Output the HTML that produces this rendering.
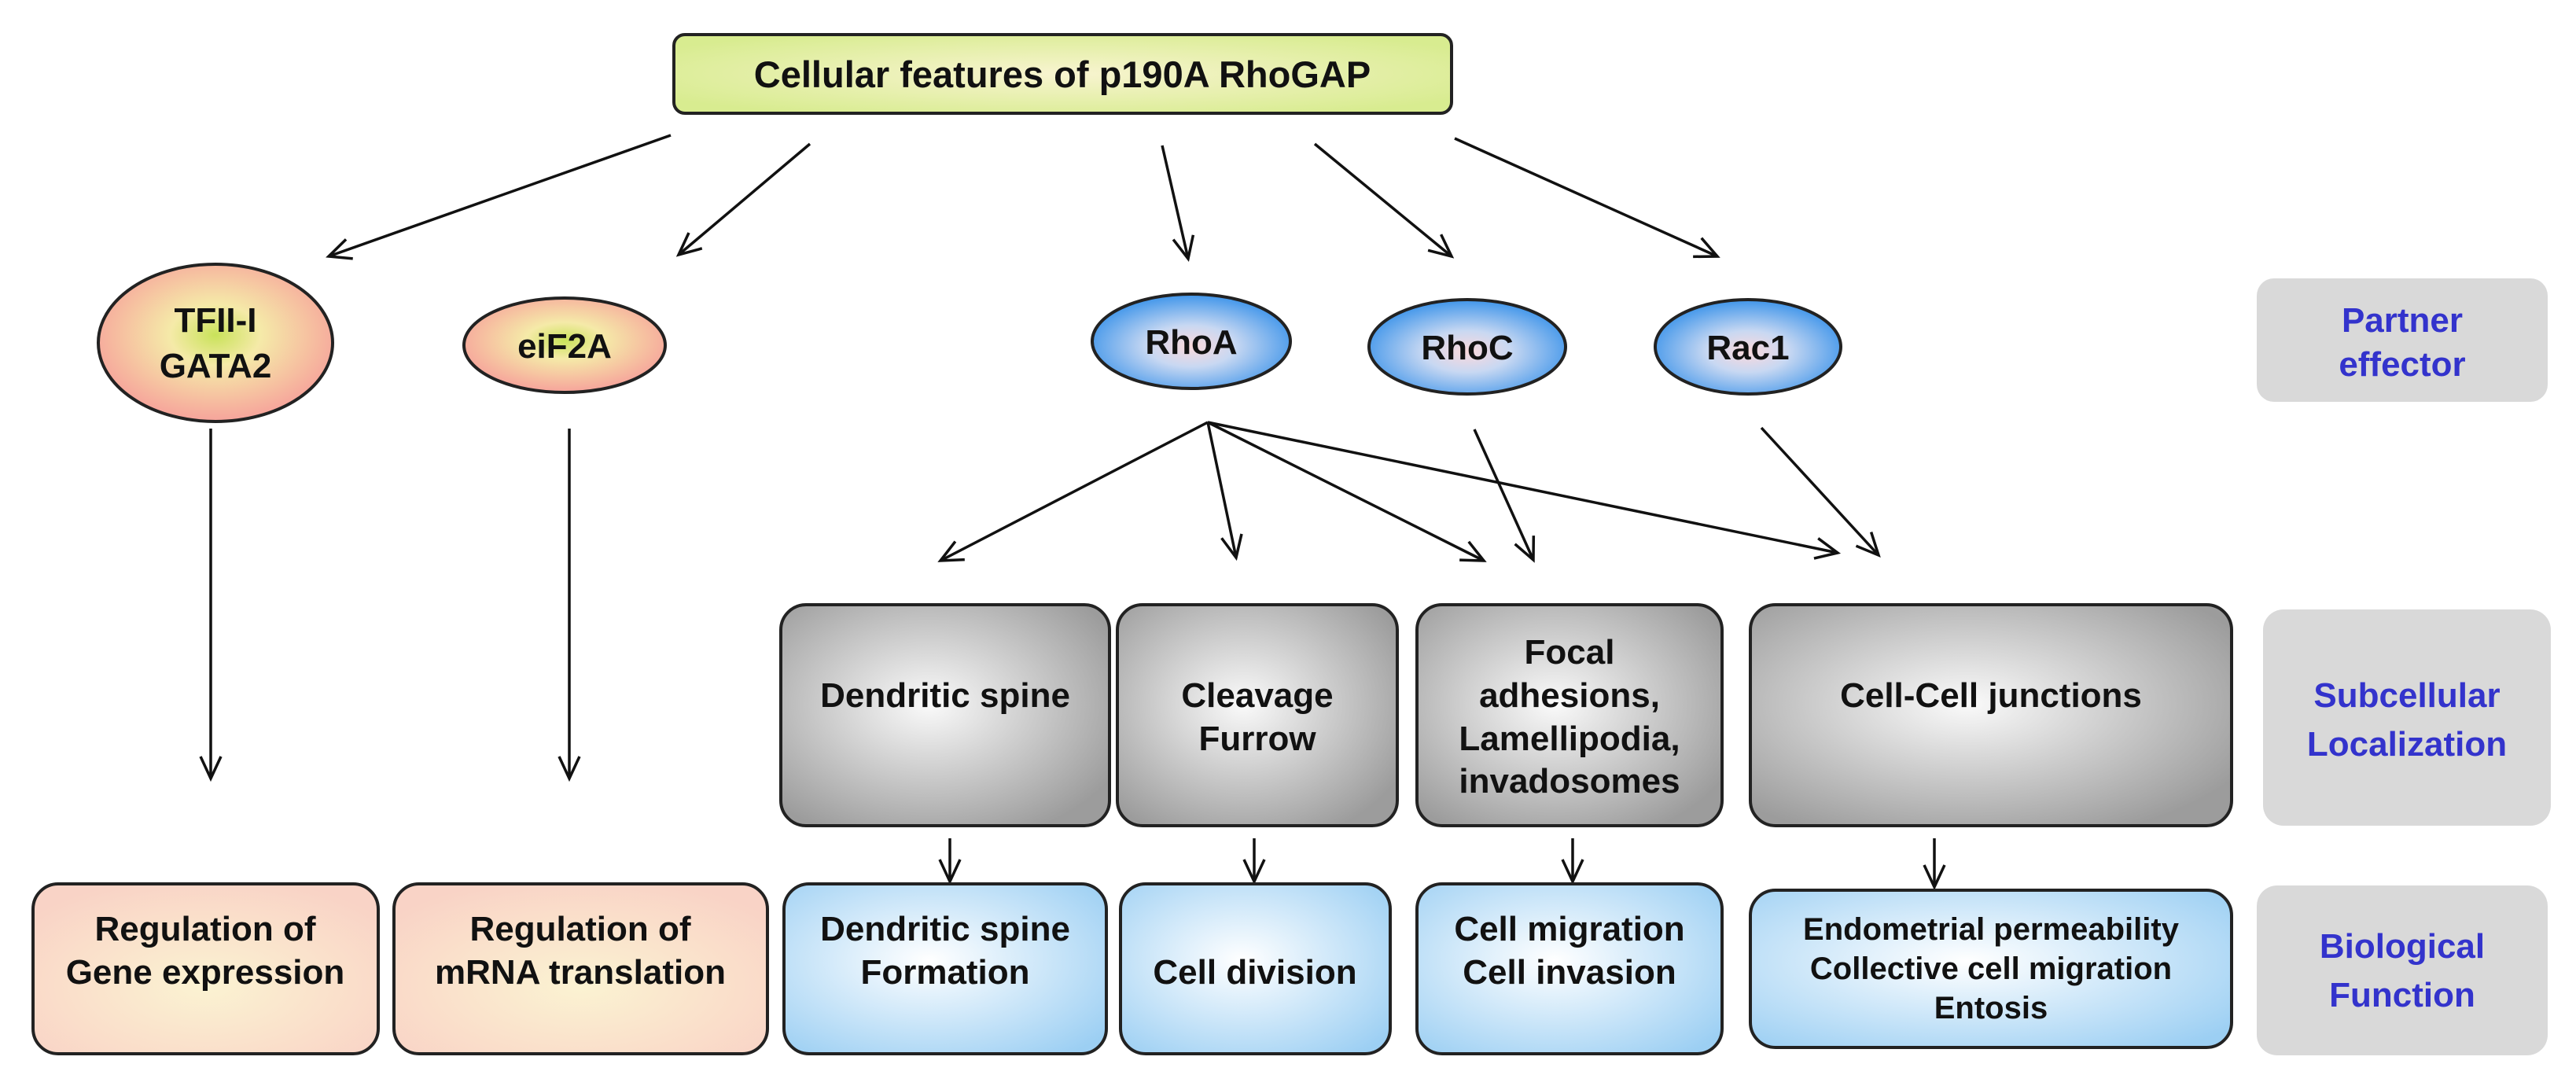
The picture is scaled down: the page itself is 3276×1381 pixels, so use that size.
<!DOCTYPE html>
<html><head><meta charset="utf-8"><style>
html,body{margin:0;padding:0;background:#fff;}
svg{display:block;}
text{font-family:"Liberation Sans","Noto Sans CJK KR",sans-serif;font-weight:bold;}
</style></head><body>
<svg width="3276" height="1381" viewBox="0 0 3276 1381" xmlns="http://www.w3.org/2000/svg">
<defs>
<radialGradient id="gHead" cx="50%" cy="50%" r="60%"><stop offset="0" stop-color="#f8f4d0"/><stop offset="1" stop-color="#d8ec90"/></radialGradient>
<radialGradient id="gPink" cx="50%" cy="45%" r="55%"><stop offset="0" stop-color="#c9e25a"/><stop offset="0.35" stop-color="#f5eaa8"/><stop offset="1" stop-color="#f6a39b"/></radialGradient>
<radialGradient id="gBlue" cx="50%" cy="55%" r="55%"><stop offset="0" stop-color="#fbd9dc"/><stop offset="0.4" stop-color="#c8d8f2"/><stop offset="1" stop-color="#3f95ea"/></radialGradient>
<radialGradient id="gGray" cx="45%" cy="45%" r="65%"><stop offset="0" stop-color="#fafafa"/><stop offset="1" stop-color="#9c9c9c"/></radialGradient>
<radialGradient id="gLB" cx="45%" cy="45%" r="70%"><stop offset="0" stop-color="#ffffff"/><stop offset="1" stop-color="#9ccff3"/></radialGradient>
<radialGradient id="gPeach" cx="50%" cy="60%" r="65%"><stop offset="0" stop-color="#fbf3d2"/><stop offset="1" stop-color="#f9d3c6"/></radialGradient>
<marker id="ah" markerWidth="40" markerHeight="40" refX="30" refY="15" orient="auto" markerUnits="userSpaceOnUse"><path d="M2,2 L30,15 L2,28" fill="none" stroke="#111" stroke-width="3.5"/></marker>
</defs>

<rect x="857" y="44" width="989" height="100" rx="14" fill="url(#gHead)" stroke="#222" stroke-width="4"/>
<text x="1351" y="111" font-size="47" text-anchor="middle" fill="#111">Cellular features of p190A  RhoGAP</text>

<g stroke="#111" stroke-width="3.5" fill="none" marker-end="url(#ah)">
<line x1="853" y1="172" x2="418" y2="326"/>
<line x1="1030" y1="183" x2="863" y2="324"/>
<line x1="1478" y1="185" x2="1511" y2="329"/>
<line x1="1672" y1="183" x2="1846" y2="326"/>
<line x1="1850" y1="176" x2="2184" y2="326"/>
<line x1="268" y1="545" x2="268" y2="990"/>
<line x1="724" y1="545" x2="724" y2="990"/>
<line x1="1536" y1="537" x2="1196" y2="713"/>
<line x1="1536" y1="537" x2="1572" y2="709"/>
<line x1="1536" y1="537" x2="1887" y2="713"/>
<line x1="1536" y1="537" x2="2337" y2="703"/>
<line x1="1875" y1="546" x2="1950" y2="712"/>
<line x1="2240" y1="544" x2="2389" y2="706"/>
<line x1="1208" y1="1066" x2="1208" y2="1121"/>
<line x1="1595" y1="1066" x2="1595" y2="1121"/>
<line x1="2000" y1="1066" x2="2000" y2="1121"/>
<line x1="2460" y1="1066" x2="2460" y2="1128"/>
</g>

<ellipse cx="274" cy="436" rx="149" ry="100" fill="url(#gPink)" stroke="#222" stroke-width="4"/>
<text x="274" y="422" font-size="44" text-anchor="middle" fill="#111">TFII-I</text>
<text x="274" y="480" font-size="44" text-anchor="middle" fill="#111">GATA2</text>
<ellipse cx="718" cy="439" rx="128" ry="60" fill="url(#gPink)" stroke="#222" stroke-width="4"/>
<text x="718" y="455" font-size="44" text-anchor="middle" fill="#111">eiF2A</text>
<ellipse cx="1515" cy="434" rx="126" ry="60" fill="url(#gBlue)" stroke="#222" stroke-width="4"/>
<text x="1515" y="450" font-size="44" text-anchor="middle" fill="#111">RhoA</text>
<ellipse cx="1866" cy="441" rx="125" ry="60" fill="url(#gBlue)" stroke="#222" stroke-width="4"/>
<text x="1866" y="457" font-size="44" text-anchor="middle" fill="#111">RhoC</text>
<ellipse cx="2223" cy="441" rx="118" ry="60" fill="url(#gBlue)" stroke="#222" stroke-width="4"/>
<text x="2223" y="457" font-size="44" text-anchor="middle" fill="#111">Rac1</text>

<rect x="2870" y="354" width="370" height="157" rx="22" fill="#d9d9d9"/>
<text x="3055" y="422" font-size="44" text-anchor="middle" fill="#3333cc">Partner</text>
<text x="3055" y="478" font-size="44" text-anchor="middle" fill="#3333cc">effector</text>
<rect x="2878" y="775" width="366" height="275" rx="26" fill="#d9d9d9"/>
<text x="3061" y="899" font-size="44" text-anchor="middle" fill="#3333cc">Subcellular</text>
<text x="3061" y="961" font-size="44" text-anchor="middle" fill="#3333cc">Localization</text>
<rect x="2870" y="1126" width="370" height="216" rx="26" fill="#d9d9d9"/>
<text x="3055" y="1218" font-size="44" text-anchor="middle" fill="#3333cc">Biological</text>
<text x="3055" y="1280" font-size="44" text-anchor="middle" fill="#3333cc">Function</text>

<g stroke="#222" stroke-width="4">
<rect x="993" y="769" width="418" height="281" rx="32" fill="url(#gGray)"/>
<rect x="1421" y="769" width="356" height="281" rx="32" fill="url(#gGray)"/>
<rect x="1802" y="769" width="388" height="281" rx="32" fill="url(#gGray)"/>
<rect x="2226" y="769" width="612" height="281" rx="32" fill="url(#gGray)"/>
</g>
<g font-size="44" text-anchor="middle" fill="#111">
<text x="1202" y="899">Dendritic spine</text>
<text x="1599" y="899">Cleavage</text>
<text x="1599" y="954">Furrow</text>
<text x="1996" y="844">Focal</text>
<text x="1996" y="899">adhesions,</text>
<text x="1996" y="954">Lamellipodia,</text>
<text x="1996" y="1008">invadosomes</text>
<text x="2532" y="899">Cell-Cell junctions</text>
</g>

<g stroke="#222" stroke-width="4">
<rect x="42" y="1124" width="439" height="216" rx="32" fill="url(#gPeach)"/>
<rect x="501" y="1124" width="475" height="216" rx="32" fill="url(#gPeach)"/>
<rect x="997" y="1124" width="410" height="216" rx="32" fill="url(#gLB)"/>
<rect x="1425" y="1124" width="343" height="216" rx="32" fill="url(#gLB)"/>
<rect x="1802" y="1124" width="388" height="216" rx="32" fill="url(#gLB)"/>
<rect x="2226" y="1132" width="612" height="200" rx="32" fill="url(#gLB)"/>
</g>
<g font-size="44" text-anchor="middle" fill="#111">
<text x="261" y="1196">Regulation of</text>
<text x="261" y="1251">Gene expression</text>
<text x="738" y="1196">Regulation of</text>
<text x="738" y="1251">mRNA translation</text>
<text x="1202" y="1196">Dendritic spine</text>
<text x="1202" y="1251">Formation</text>
<text x="1596" y="1251">Cell division</text>
<text x="1996" y="1196">Cell migration</text>
<text x="1996" y="1251">Cell invasion</text>
</g>
<g font-size="40" text-anchor="middle" fill="#111">
<text x="2532" y="1195">Endometrial permeability</text>
<text x="2532" y="1245">Collective cell migration</text>
<text x="2532" y="1295">Entosis</text>
</g>
</svg>
</body></html>
